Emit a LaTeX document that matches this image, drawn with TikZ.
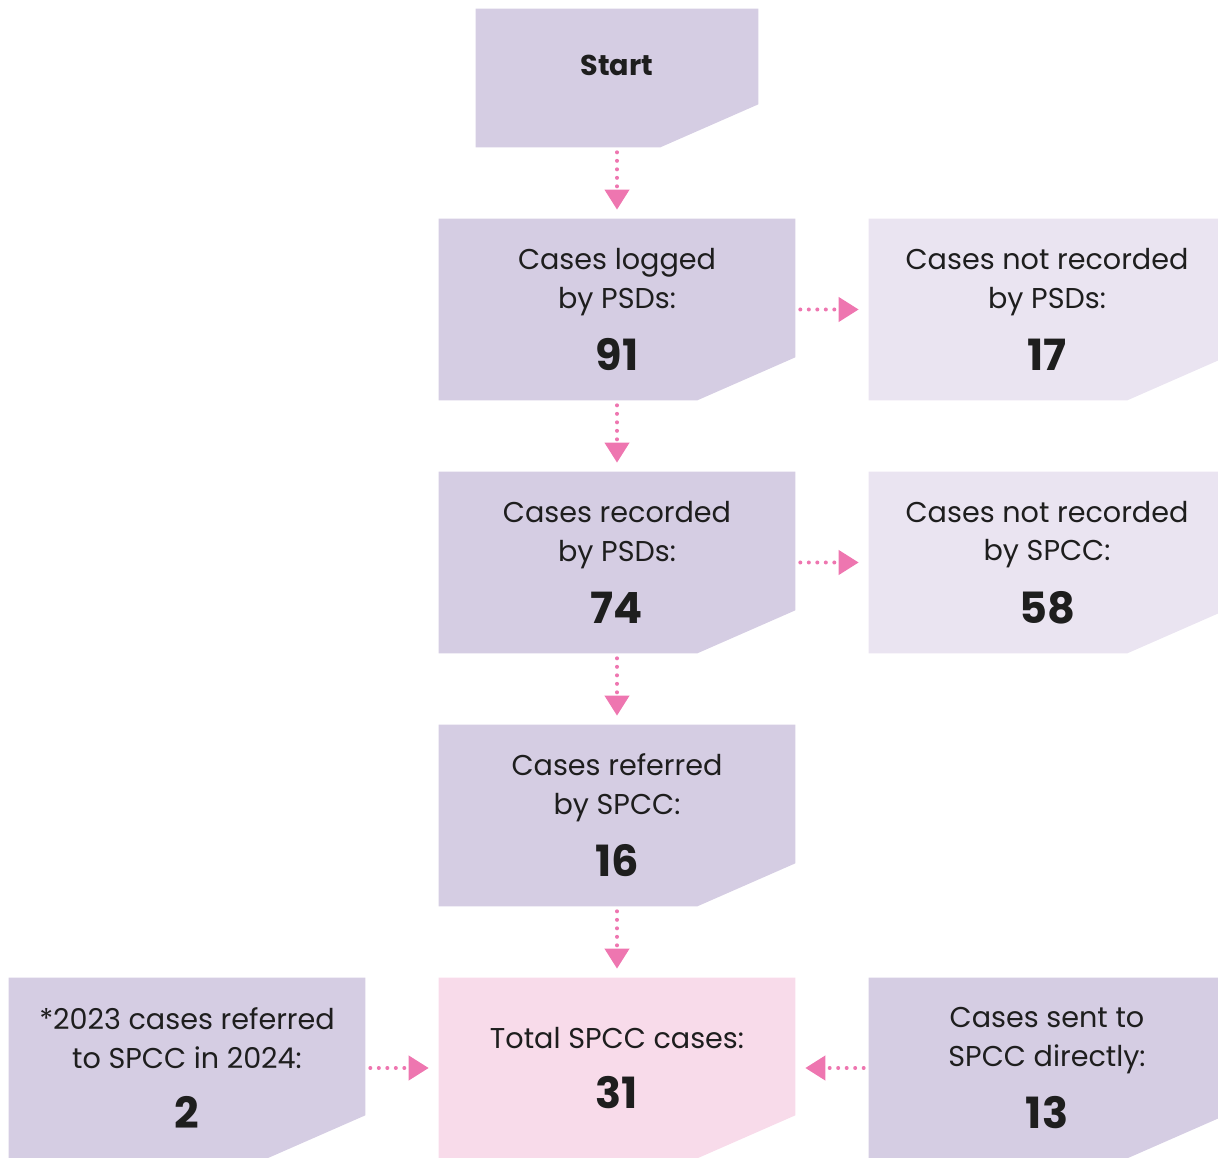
\documentclass[tikz,border=0pt]{standalone}
\usepackage{fontspec}
\setmainfont{Poppins}
\usetikzlibrary{arrows.meta,backgrounds}
\definecolor{boxpurple}{HTML}{D5CDE3}
\definecolor{boxlight}{HTML}{EAE4F1}
\definecolor{boxpink}{HTML}{F8DBEA}
\definecolor{arrowpink}{HTML}{EE76B0}
\definecolor{ink}{HTML}{1E1E1E}
\tikzset{
  flowbox/.style={minimum width=7.12cm, minimum height=3.62cm, align=center, inner sep=0pt,
    text=ink, font=\fontsize{16.3}{22}\selectfont},
  flowarrow/.style={draw=arrowpink, line width=0.08cm, line cap=round, dash pattern=on 0pt off 0.17cm,
    -{Triangle[width=0.48cm,length=0.4cm,fill=arrowpink]}},
}
\newcommand{\casenum}[1]{{\fontsize{24.5}{24.5}\selectfont\bfseries #1}}
\begin{document}
\begin{tikzpicture}[x=0.02cm, y=-0.02cm]
      \useasboundingbox (0,0) rectangle (1218,1158);

      % Main Column
      \node[flowbox, minimum width=5.64cm, minimum height=2.76cm] (start) at (617,78)
        {\bfseries Start\rule[-0.52cm]{0pt}{0pt}};
      \node[flowbox] (logged) at (617,309.5) {Cases logged\\by PSDs:\\[12pt]\casenum{91}};
      \node[flowbox] (recorded) at (617,562.5) {Cases recorded\\by PSDs:\\[12pt]\casenum{74}};
      \node[flowbox] (referred) at (617,815.5) {Cases referred\\by SPCC:\\[12pt]\casenum{16}};
      \node[flowbox, minimum height=3.6cm] (total) at (617,1068) {Total SPCC cases:\\[12pt]\casenum{31}};

      % Side Boxes
      \node[flowbox] (notpsd) at (1047,309.5) {Cases not recorded\\by PSDs:\\[12pt]\casenum{17}};
      \node[flowbox] (notspcc) at (1047,562.5) {Cases not recorded\\by SPCC:\\[12pt]\casenum{58}};
      \node[flowbox, minimum height=3.6cm] (carried) at (187,1068) {*2023 cases referred\\to SPCC in 2024:\\[12pt]\casenum{2}};
      \node[flowbox, minimum height=3.6cm] (direct) at (1047,1068) {Cases sent to\\SPCC directly:\\[12pt]\casenum{13}};

      % Box Fills (cut corner)
      \begin{scope}[on background layer]
        \foreach \n/\c in {start/boxpurple, logged/boxpurple, recorded/boxpurple, referred/boxpurple,
            total/boxpink, notpsd/boxlight, notspcc/boxlight, carried/boxpurple, direct/boxpurple} {
            \fill[\c] (\n.north west) -- (\n.north east) -- ([yshift=0.86cm]\n.south east)
              -- ([xshift=-1.96cm]\n.south east) -- (\n.south west) -- cycle;
          }
      \end{scope}

      % Arrows
      \foreach \a/\b in {start/logged, logged/recorded, recorded/referred, referred/total} {
          \draw[flowarrow, shorten <=0.1cm, shorten >=0.18cm] (\a) -- (\b);
        }
      \foreach \a/\b in {logged/notpsd, recorded/notspcc, carried/total, direct/total} {
          \draw[flowarrow, shorten <=0.1cm, shorten >=0.2cm] (\a) -- (\b);
        }

    \end{tikzpicture}
\end{document}
